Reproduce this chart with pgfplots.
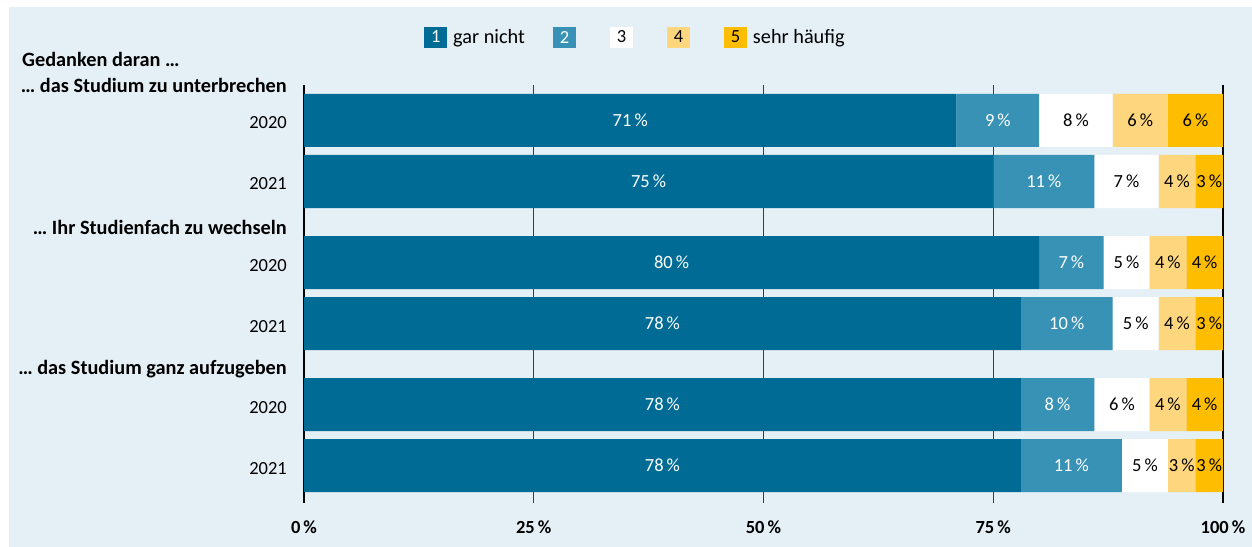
\documentclass[border=0pt]{standalone}
\usepackage{pgfplots}
\usepackage{pgfplotstable}
\pgfplotsset{compat=1.18}
\usepackage{fontspec}
\setmainfont{Carlito}
\definecolor{bg}{RGB}{228,239,246}
\definecolor{c1}{RGB}{0,108,150}
\definecolor{c2}{RGB}{56,146,182}
\definecolor{c3}{RGB}{255,255,255}
\definecolor{c4}{RGB}{254,214,125}
\definecolor{c5}{RGB}{255,189,0}
\definecolor{gridc}{RGB}{60,60,60}
\pgfplotstableread{
y v1 v2 v3 v4 v5
120.5 71 9 8 6 6
181.5 75 11 7 4 3
262.5 80 7 5 4 4
323.5 78 10 5 4 3
404.5 78 8 6 4 4
465.5 78 11 5 3 3
}\data
\newcommand{\lbox}[3]{\fill[#1] (0bp,-10.5bp) rectangle (23bp,10.5bp); \pgftext[at=\pgfqpoint{11.5bp}{0bp}]{\fontsize{18.5bp}{22bp}\selectfont\color{#2}#3}}
\newcommand{\wf}{\fontsize{20.3bp}{24bp}\selectfont}
\begin{document}
\begin{tikzpicture}[font=\fontsize{18.5bp}{22bp}\selectfont]
\fill[white] (0,0) rectangle (1252bp,547bp);
\fill[bg] (9bp,0) rectangle (1252bp,540bp);
\begin{axis}[
  at={(304bp,44bp)}, anchor=south west,
  width=919bp, height=418bp, scale only axis,
  xmin=0, xmax=100, ymin=85, ymax=503, y dir=reverse,
  xbar stacked, bar width=53,
  axis line style={draw=none},
  clip=false,
  major tick length=0pt,
  /pgf/number format/assume math mode=true,
  xtick={25,50,75}, xticklabels={25\,\%,50\,\%,75\,\%},
  extra x ticks={0,100}, extra x tick labels={0\,\%,100\,\%},
  extra x tick style={grid style={black,line width=2.6bp}},
  xmajorgrids, grid style={gridc,line width=1.3bp},
  xticklabel style={font=\fontsize{18.5bp}{22bp}\selectfont\bfseries, anchor=base, inner sep=0pt, yshift=-30bp},
  ytick={120.5,181.5,262.5,323.5,404.5,465.5},
  yticklabels={2020,2021,2020,2021,2020,2021},
  yticklabel style={anchor=base east, inner sep=0pt, xshift=-17bp, yshift=-8.5bp},
  nodes near coords={\pgfmathprintnumber{\pgfplotspointmeta}\,\%},
  every node near coord/.append style={anchor=center, inner sep=0pt},
  legend columns=5,
  legend style={draw=none, fill=none, inner sep=0pt, at={(0.1306,1.1148)}, anchor=west,
    nodes={inner sep=6bp}, font=\wf,
    /tikz/every even column/.append style={column sep=22bp}},
]
\addplot[draw=none, fill=c1, point meta=\thisrow{v1},
  every node near coord/.append style={text=white},
  legend image code/.code={\lbox{c1}{white}{1}}]
  table[x=v1,y=y] {\data};
\addlegendentry{gar nicht}
\addplot[draw=none, fill=c2, point meta=\thisrow{v2},
  every node near coord/.append style={text=white},
  legend image code/.code={\lbox{c2}{white}{2}}]
  table[x=v2,y=y] {\data};
\addlegendentry{}
\addplot[draw=none, fill=c3, point meta=\thisrow{v3},
  every node near coord/.append style={text=black},
  legend image code/.code={\lbox{c3}{black}{3}}]
  table[x=v3,y=y] {\data};
\addlegendentry{}
\addplot[draw=none, fill=c4, point meta=\thisrow{v4},
  every node near coord/.append style={text=black},
  legend image code/.code={\lbox{c4}{black}{4}}]
  table[x=v4,y=y] {\data};
\addlegendentry{}
\addplot[draw=none, fill=c5, point meta=\thisrow{v5},
  every node near coord/.append style={text=black},
  legend image code/.code={\lbox{c5}{black}{5}}]
  table[x=v5,y=y] {\data};
\addlegendentry{sehr häufig}
\node[anchor=base west, inner sep=0pt, font=\wf\bfseries] at (axis cs:-30.69,67) {Gedanken daran …};
\node[anchor=base east, inner sep=0pt, xshift=-17bp, font=\wf\bfseries] at (axis cs:0,93) {… das Studium zu unterbrechen};
\node[anchor=base east, inner sep=0pt, xshift=-17bp, font=\wf\bfseries] at (axis cs:0,234) {… Ihr Studienfach zu wechseln};
\node[anchor=base east, inner sep=0pt, xshift=-17bp, font=\wf\bfseries] at (axis cs:0,374) {… das Studium ganz aufzugeben};
\end{axis}
\end{tikzpicture}
\end{document}
